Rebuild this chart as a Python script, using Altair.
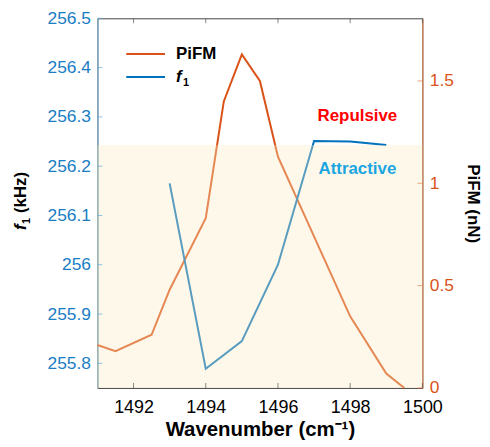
import altair as alt
import pandas as pd

# PiFM (right axis, nN)
pifm_x = [1491, 1491.5, 1492.5, 1493, 1494, 1494.5, 1495, 1495.5, 1496, 1498, 1499, 1499.5]
pifm_y = [0.21, 0.18, 0.26, 0.48, 0.83, 1.40, 1.63, 1.50, 1.13, 0.35, 0.07, 0.0]

# f1 (left axis, kHz)
f1_x = [1493, 1494, 1495, 1496, 1497, 1498, 1499]
f1_y = [256.165, 255.789, 255.845, 256.0, 256.251, 256.25, 256.243]

boundary = 256.243
f1_domain = [255.75, 256.5]
pifm_domain = [0, 1.806]
x_domain = [1491, 1500]
x_ticks = [1492, 1494, 1496, 1498, 1500]
f1_ticks = [255.8, 255.9, 256.0, 256.1, 256.2, 256.3, 256.4, 256.5]
pifm_ticks = [0, 0.5, 1, 1.5]

series_names = ["PiFM", "f1"]
series_colors = ["#D95319", "#0072BD"]
region_text = ["Repulsive", "Attractive"]
region_x = [1498.2, 1498.2]
region_y = [256.302, 256.194]
region_colors = ["#FF0000", "#1BA6E2"]

FONT = "Liberation Sans"
W, H = 327, 372

pifm_df = pd.DataFrame({"x": pifm_x, "y": pifm_y})
f1_df = pd.DataFrame({"x": f1_x, "y": f1_y})
rect_df = pd.DataFrame({"x": [x_domain[0]], "x2": [x_domain[1]], "y": [f1_domain[0]], "y2": [boundary]})
lab_df = pd.DataFrame({"x": region_x, "y": region_y, "t": region_text, "c": region_colors})
xt_df = pd.DataFrame({"v": x_ticks})
ft_df = pd.DataFrame({"v": f1_ticks})
pt_df = pd.DataFrame({"v": pifm_ticks})
leg_df = pd.DataFrame({"s": series_names, "c": series_colors})
one_df = pd.DataFrame({"k": [0]})

xscale = alt.Scale(domain=x_domain, nice=False, zero=False)
f1scale = alt.Scale(domain=f1_domain, nice=False, zero=False)
pscale = alt.Scale(domain=pifm_domain, nice=False, zero=False)
legscale = alt.Scale(type="point", domain=series_names, range=[36, 59], padding=0)

xaxis = alt.Axis(values=x_ticks, title="Wavenumber (cm⁻¹)", grid=False, format="d",
                 labelFontSize=18, titleFontSize=20.5, titleFontWeight="bold",
                 labelColor="black", titleColor="black", domainColor="#555555",
                 ticks=False, labelPadding=11, titlePadding=3, labelFlush=False,
                 labelFont=FONT, titleFont=FONT)

pifm_line = alt.Chart(pifm_df).mark_line(strokeWidth=2, color=series_colors[0]).encode(
    x=alt.X("x:Q", scale=xscale, axis=xaxis),
    y=alt.Y("y:Q", scale=pscale,
            axis=alt.Axis(orient="right", values=pifm_ticks, title="PiFM (nN)", grid=False,
                          labelFontSize=17.5, titleFontSize=17, titleFontWeight="bold",
                          labelColor="#D95319", titleColor="black", domainColor="#E8804A",
                          ticks=False, labelPadding=7, titlePadding=10, labelFlush=False,
                          labelFont=FONT, titleFont=FONT,
                          labelExpr="format(datum.value, '~g')")),
)

f1_line = alt.Chart(f1_df).mark_line(strokeWidth=2, color=series_colors[1]).encode(
    x=alt.X("x:Q", scale=xscale, axis=xaxis),
    y=alt.Y("y:Q", scale=f1scale,
            axis=alt.Axis(orient="left", values=f1_ticks, title=None, grid=False,
                          labelFontSize=17.5,
                          labelColor="#1A7DC4", domainColor="#7AB6DF",
                          ticks=False, labelPadding=7, labelFlush=False,
                          labelFont=FONT,
                          labelExpr="format(datum.value, '~g')")),
)

rect = alt.Chart(rect_df).mark_rect(color="#FCEBC3", opacity=0.35).encode(
    x=alt.X("x:Q", scale=xscale, axis=xaxis),
    x2="x2:Q",
    y=alt.Y("y:Q", scale=f1scale, axis=None),
    y2="y2:Q",
)

labels = alt.Chart(lab_df).mark_text(fontSize=17, fontWeight="bold", font=FONT).encode(
    x=alt.X("x:Q", scale=xscale, axis=xaxis),
    y=alt.Y("y:Q", scale=f1scale, axis=None),
    text="t:N",
    color=alt.Color("c:N", scale=None),
)

# inward tick marks (MATLAB style)
bottom_ticks = alt.Chart(xt_df).mark_tick(orient="vertical", size=5, thickness=1, color="#555555").encode(
    x=alt.X("v:Q", scale=xscale, axis=xaxis), y=alt.value(H - 2.5))
top_ticks = alt.Chart(xt_df).mark_tick(orient="vertical", size=5, thickness=1, color="#555555").encode(
    x=alt.X("v:Q", scale=xscale, axis=xaxis), y=alt.value(2.5))
left_ticks = alt.Chart(ft_df).mark_tick(orient="horizontal", size=5, thickness=1, color="#5FA8DA").encode(
    y=alt.Y("v:Q", scale=f1scale, axis=None), x=alt.value(2.5))
right_ticks = alt.Chart(pt_df).mark_tick(orient="horizontal", size=5, thickness=1, color="#E8804A").encode(
    y=alt.Y("v:Q", scale=pscale, axis=None), x=alt.value(W - 2.5))

# legend (drawn inside the plot, top-left)
leg_lines = alt.Chart(leg_df).mark_rule(strokeWidth=2).encode(
    x=alt.value(29), x2=alt.value(68),
    y=alt.Y("s:N", scale=legscale, axis=None),
    color=alt.Color("c:N", scale=None),
)
leg_pifm = alt.Chart(leg_df.iloc[[0]]).mark_text(
    fontSize=17, fontWeight="bold", font=FONT, align="left", baseline="middle", color="black"
).encode(x=alt.value(79), y=alt.Y("s:N", scale=legscale, axis=None), text="s:N")
leg_f = alt.Chart(leg_df.iloc[[1]]).mark_text(
    fontSize=17, fontWeight="bold", fontStyle="italic", font=FONT, align="left", baseline="middle",
    color="black", text="f"
).encode(x=alt.value(79), y=alt.Y("s:N", scale=legscale, axis=None))
leg_sub = alt.Chart(leg_df.iloc[[1]]).mark_text(
    fontSize=11, fontWeight="bold", font=FONT, align="left", baseline="middle",
    color="black", text="1", dy=6
).encode(x=alt.value(86), y=alt.Y("s:N", scale=legscale, axis=None))

# left axis title: italic f with subscript 1, then (kHz)
ty_f = alt.Chart(one_df).mark_text(
    fontSize=17, fontWeight="bold", fontStyle="italic", font=FONT, angle=270,
    align="left", baseline="middle", color="black", text="f"
).encode(x=alt.value(-77), y=alt.value(213))
ty_sub = alt.Chart(one_df).mark_text(
    fontSize=11, fontWeight="bold", font=FONT, angle=270,
    align="left", baseline="middle", color="black", text="1", dy=6
).encode(x=alt.value(-77), y=alt.value(207))
ty_rest = alt.Chart(one_df).mark_text(
    fontSize=17, fontWeight="bold", font=FONT, angle=270,
    align="left", baseline="middle", color="black", text="(kHz)"
).encode(x=alt.value(-77), y=alt.value(196))

chart = alt.layer(pifm_line, f1_line, rect, labels, bottom_ticks, top_ticks, left_ticks, right_ticks,
                  leg_lines, leg_pifm, leg_f, leg_sub, ty_f, ty_sub, ty_rest
).resolve_scale(
    y="independent"
).properties(width=W, height=H, padding={"left": 4, "top": 0, "right": 0, "bottom": 0}
).configure_view(stroke="#444444", strokeWidth=1)

chart.save("out.html", embed_options={"renderer": "svg", "actions": False})
